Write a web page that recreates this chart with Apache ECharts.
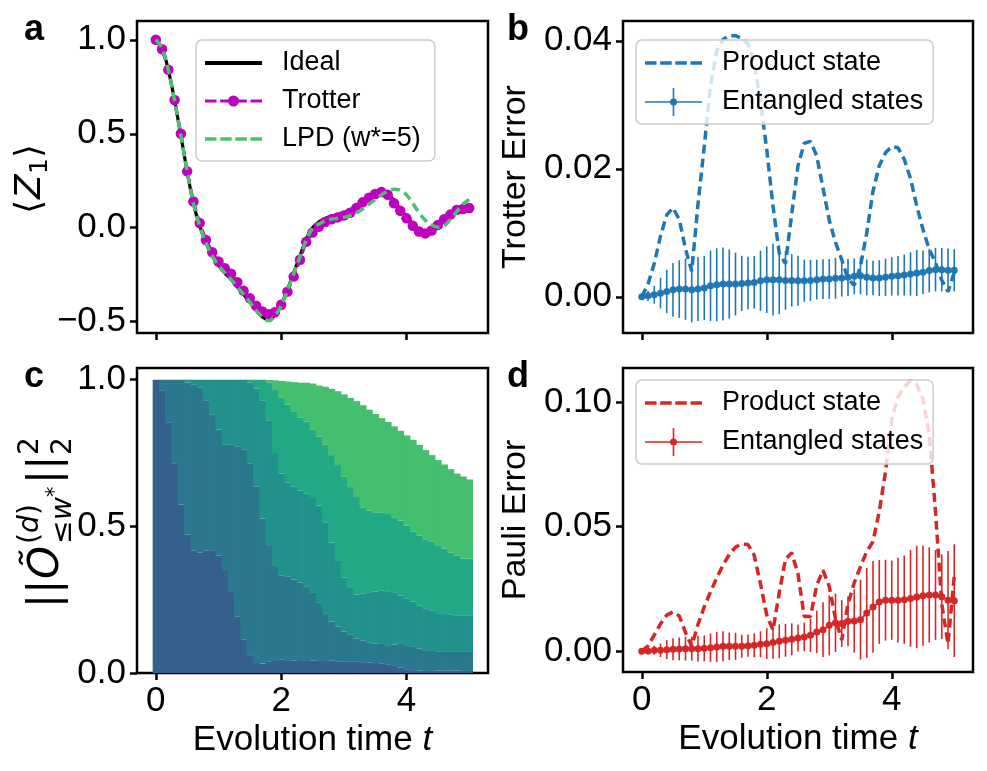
<!DOCTYPE html>
<html><head><meta charset="utf-8">
<script src="https://cdn.jsdelivr.net/npm/echarts@6/dist/echarts.min.js"></script>
<style>html,body{margin:0;padding:0;background:#fff}#c{width:987px;height:771px}</style>
</head><body><div id="c"></div>
<script>
// ---------------- data ----------------
const tArr = [0,0.1,0.2,0.3,0.4,0.5,0.6,0.7,0.8,0.9,1,1.1,1.2,1.3,1.4,1.5,1.6,1.7,1.8,1.9,2,2.1,2.2,2.3,2.4,2.5,2.6,2.7,2.8,2.9,3,3.1,3.2,3.3,3.4,3.5,3.6,3.7,3.8,3.9,4,4.1,4.2,4.3,4.4,4.5,4.6,4.7,4.8,4.9,5];
const xTicks = [0, 2, 4];

// panel a : <Z1>
const idealZ = [1.0,0.955,0.84,0.675,0.49,0.30,0.13,0.01,-0.08,-0.15,-0.2,-0.24,-0.275,-0.315,-0.355,-0.395,-0.44,-0.475,-0.49,-0.465,-0.41,-0.33,-0.24,-0.15,-0.06,0.0,0.03,0.05,0.06,0.07,0.08,0.095,0.115,0.14,0.165,0.185,0.19,0.18,0.145,0.1,0.06,0.02,-0.01,-0.02,-0.01,0.02,0.05,0.075,0.095,0.105,0.11];
const trotterZ = [1.0,0.95,0.84,0.68,0.50,0.30,0.14,0.025,-0.065,-0.13,-0.18,-0.215,-0.245,-0.29,-0.335,-0.375,-0.415,-0.445,-0.46,-0.45,-0.41,-0.34,-0.26,-0.17,-0.075,-0.025,0.005,0.03,0.045,0.055,0.065,0.08,0.105,0.135,0.16,0.18,0.19,0.175,0.13,0.09,0.05,0.01,-0.02,-0.03,-0.015,0.015,0.045,0.07,0.095,0.10,0.105];
const lpdZ = [1.0,0.955,0.84,0.675,0.49,0.30,0.13,0.01,-0.08,-0.15,-0.2,-0.24,-0.275,-0.315,-0.355,-0.395,-0.44,-0.475,-0.495,-0.47,-0.415,-0.335,-0.245,-0.155,-0.065,-0.005,0.02,0.035,0.045,0.05,0.055,0.065,0.08,0.1,0.125,0.15,0.175,0.195,0.205,0.2,0.175,0.13,0.08,0.04,0.015,0.003,0.01,0.045,0.085,0.125,0.15];
const yTicksA = [-0.5, 0, 0.5, 1.0];

// panel b : Trotter error
const prodTrotter = [0,0.002,0.0052,0.0095,0.0128,0.0139,0.0121,0.0075,0.004,0.0145,0.0235,0.033,0.0385,0.0402,0.0408,0.0408,0.0404,0.0395,0.0365,0.0305,0.023,0.0142,0.0068,0.0052,0.013,0.0205,0.024,0.0243,0.022,0.017,0.012,0.0085,0.0058,0.0028,0.0018,0.0048,0.01,0.0165,0.0205,0.0225,0.0235,0.0233,0.0215,0.0185,0.0142,0.0105,0.0074,0.0054,0.0026,0.0008,0.0038];
const entTrotter = [0,0.00016,0.00032,0.00058,0.00084,0.0011,0.00121,0.00121,0.0011,0.00121,0.00137,0.00173,0.00189,0.002,0.002,0.002,0.0021,0.00215,0.00226,0.00252,0.00268,0.00268,0.00268,0.00257,0.00257,0.00252,0.00252,0.00257,0.00268,0.00278,0.00278,0.00289,0.00294,0.00305,0.0032,0.0033,0.00305,0.00294,0.00294,0.00305,0.0032,0.0033,0.0034,0.00357,0.00373,0.00383,0.0041,0.00425,0.00425,0.00415,0.00415];
const entTrotterErr = [0,0.0008,0.0014,0.0024,0.0034,0.0042,0.0045,0.0048,0.0051,0.005,0.005,0.0055,0.0057,0.0057,0.0054,0.0049,0.0043,0.0041,0.0041,0.0047,0.0052,0.0056,0.0054,0.0046,0.0041,0.0039,0.0033,0.0032,0.0031,0.0031,0.0031,0.0032,0.0029,0.0029,0.0028,0.0029,0.0028,0.0027,0.0028,0.0029,0.003,0.0031,0.0032,0.0034,0.0036,0.0034,0.0034,0.0034,0.0034,0.0034,0.0033];
const yTicksB = [0, 0.02, 0.04];

// panel c : cumulative weight boundaries (bottom band -> top band)
const cumW1 = [1,0.962,0.853,0.713,0.574,0.472,0.417,0.411,0.417,0.419,0.4,0.351,0.276,0.193,0.115,0.061,0.034,0.032,0.038,0.044,0.045,0.044,0.042,0.041,0.041,0.042,0.044,0.044,0.043,0.04,0.038,0.038,0.038,0.037,0.036,0.034,0.033,0.03,0.024,0.018,0.013,0.01,0.008,0.007,0.007,0.008,0.009,0.009,0.008,0.007,0.007];
const cumW2 = [1,1,1,1,1,0.99,0.985,0.974,0.928,0.882,0.83,0.778,0.778,0.773,0.761,0.715,0.635,0.527,0.436,0.365,0.333,0.328,0.319,0.308,0.296,0.273,0.239,0.204,0.175,0.158,0.141,0.13,0.118,0.11,0.103,0.101,0.099,0.095,0.097,0.099,0.095,0.089,0.084,0.078,0.075,0.072,0.072,0.072,0.072,0.072,0.072];
const cumW3 = [1,1,1,1,1,1,1,1,1,1,1,1,1,1,1,0.99,0.97,0.93,0.86,0.75,0.68,0.65,0.635,0.622,0.611,0.6,0.571,0.514,0.445,0.382,0.325,0.29,0.267,0.27,0.273,0.278,0.282,0.279,0.273,0.264,0.253,0.244,0.231,0.221,0.212,0.204,0.201,0.198,0.197,0.197,0.197];
const cumW4 = [1,1,1,1,1,1,1,1,1,1,1,1,1,1,1,1,1,1,0.99,0.965,0.94,0.915,0.89,0.87,0.858,0.829,0.806,0.778,0.743,0.709,0.669,0.634,0.6,0.565,0.554,0.548,0.546,0.542,0.531,0.52,0.502,0.483,0.468,0.456,0.447,0.433,0.424,0.41,0.401,0.39,0.39];
const cumW5 = [1,1,1,1,1,1,1,1,1,1,1,1,1,1,1,1,1,1,0.999,0.998,0.996,0.994,0.992,0.99,0.99,0.987,0.98,0.976,0.969,0.961,0.95,0.938,0.927,0.913,0.898,0.883,0.869,0.856,0.841,0.826,0.81,0.795,0.778,0.76,0.743,0.726,0.711,0.695,0.68,0.67,0.66];
const yTicksC = [0, 0.5, 1.0];

// panel d : Pauli error
const prodPauli = [0,0.0022,0.0065,0.011,0.0145,0.0158,0.0142,0.0075,0.002,0.0108,0.0178,0.0238,0.0295,0.0345,0.0388,0.0418,0.043,0.0428,0.0385,0.027,0.0145,0.0085,0.0235,0.037,0.0395,0.031,0.014,0.014,0.0265,0.0325,0.026,0.013,0.0045,0.019,0.0275,0.034,0.04,0.044,0.056,0.072,0.093,0.102,0.106,0.1085,0.107,0.101,0.087,0.056,0.019,0.003,0.03];
const entPauli = [0,0.00013,0.0004,0.0004,0.00067,0.0008,0.00094,0.00107,0.00107,0.00107,0.0012,0.00147,0.00174,0.002,0.002,0.002,0.002,0.00227,0.00241,0.00281,0.00307,0.00348,0.00401,0.00441,0.00481,0.00535,0.00575,0.00642,0.00775,0.00869,0.0104,0.0114,0.0111,0.012,0.0122,0.0127,0.0154,0.0178,0.0198,0.0205,0.0205,0.0205,0.0207,0.0212,0.0218,0.0223,0.0226,0.0226,0.0219,0.0205,0.0203];
const entPauliErr = [0,0.0013,0.0018,0.0027,0.0038,0.0044,0.0046,0.0048,0.0048,0.0052,0.0052,0.0057,0.006,0.006,0.0055,0.0054,0.0046,0.0045,0.0048,0.0052,0.0062,0.0065,0.0068,0.0066,0.0064,0.0054,0.0057,0.0067,0.0085,0.011,0.012,0.0117,0.0094,0.01,0.0127,0.016,0.018,0.0184,0.0168,0.0162,0.0159,0.017,0.0177,0.0194,0.0205,0.0201,0.0191,0.018,0.017,0.0197,0.0226];
const yTicksD = [0, 0.05, 0.10];

// ---------------- styling ----------------
const FONT = 'Liberation Sans, Arial, sans-serif';
const BLUE = '#1f77b4', RED = '#d62728', MAG = '#bf00bf', LGREEN = '#4ac16d';
const VIR = ['#355f8d', '#2a788e', '#21918c', '#22a884', '#44bf70'];

// legend handle icons (57 x 14 for panel a, 57 x 28 for panels b/d)
const C14 = 'M0,0h0.01v0.01h-0.01Z M56.99,13.99h0.01v0.01h-0.01Z ';
const C28 = 'M0,0h0.01v0.01h-0.01Z M56.99,27.99h0.01v0.01h-0.01Z ';
const dashes = (y0, y1) => [[0, 11.5], [15.2, 26.7], [30.3, 41.8], [45.5, 57]]
  .map(([a, b]) => `M${a},${y0}H${b}V${y1}H${a}Z`).join(' ');
const ICON_IDEAL = 'path://' + C14 + 'M0,4.9H57V9.1H0Z';
const ICON_TROT = 'path://' + C14 + dashes(5.4, 8.6) + ' M23,7A5.5,5.5 0 1,1 34,7A5.5,5.5 0 1,1 23,7Z';
const ICON_LPD = 'path://' + C14 + dashes(5.2, 8.8);
const ICON_PROD = 'path://' + C28 + dashes(12.2, 15.8);
const ICON_ERR = 'path://M0,13.2H57V14.8H0Z M27.7,0H29.3V28H27.7Z M25,14A3.5,3.5 0 1,1 32,14A3.5,3.5 0 1,1 25,14Z';

const pairs = (ys) => tArr.map((t, i) => [t, ys[i]]);

const chart = echarts.init(document.getElementById('c'), null, {renderer: 'canvas'});

const grids = [
  {left: 137, top: 21, width: 351, height: 312},
  {left: 623, top: 21, width: 350, height: 312},
  {left: 137, top: 368, width: 351, height: 305},
  {left: 623, top: 368, width: 350, height: 304}
].map(g => Object.assign(g, {show: true, borderColor: '#000', borderWidth: 2.5, backgroundColor: 'transparent', containLabel: false}));

const tickStyle = {show: true, length: 7, inside: false, lineStyle: {color: '#000', width: 2.5}};
const labelBase = {color: '#000', fontSize: 35, fontFamily: FONT};

const xAxes = [0, 1, 2, 3].map(i => ({
  type: 'value', gridIndex: i, min: -0.3, max: 5.3,
  axisLine: {show: false, onZero: false}, splitLine: {show: false},
  axisTick: Object.assign({customValues: xTicks}, tickStyle),
  axisLabel: Object.assign({show: i >= 2, customValues: xTicks, margin: 11, formatter: v => String(v)}, labelBase),
  name: i >= 2 ? '{n|Evolution time }{i|t}' : '',
  nameLocation: 'middle', nameGap: 50,
  nameTextStyle: {rich: {
    n: {fontSize: 35, fontFamily: FONT, color: '#000'},
    i: {fontSize: 35, fontFamily: FONT, fontStyle: 'italic', color: '#000'}
  }}
}));

function yAx(i, min, max, ticks, digits, name) {
  return {
    type: 'value', gridIndex: i, min, max,
    axisLine: {show: false, onZero: false}, splitLine: {show: false},
    axisTick: Object.assign({customValues: ticks}, tickStyle),
    axisLabel: Object.assign({customValues: ticks, margin: 11,
      formatter: v => (v < -1e-9 ? '\u2212' : '') + Math.abs(v).toFixed(digits)}, labelBase),
    name: name || '', nameLocation: 'middle', nameRotate: 90, nameGap: 90,
    nameTextStyle: {fontSize: 34, fontFamily: FONT, color: '#000'}
  };
}
const yAxes = [
  yAx(0, -0.56, 1.10, yTicksA, 1),
  yAx(1, -0.00565, 0.0431, yTicksB, 2, 'Trotter Error'),
  yAx(2, 0, 1.04, yTicksC, 1),
  yAx(3, -0.0083, 0.1136, yTicksD, 2, 'Pauli Error')
];

function errSeries(name, idx, mean, err, color) {
  return {
    type: 'custom', name, xAxisIndex: idx, yAxisIndex: idx, clip: true, z: 3,
    data: tArr.map((t, i) => [t, mean[i], err[i]]),
    encode: {x: 0, y: 1},
    renderItem: (params, api) => {
      const x = api.value(0), m = api.value(1), e = api.value(2);
      const p1 = api.coord([x, m - e]), p2 = api.coord([x, m + e]);
      return {type: 'line', shape: {x1: p1[0], y1: p1[1], x2: p2[0], y2: p2[1]},
        style: {stroke: color, lineWidth: 1.6}};
    }
  };
}

const bandTops = [cumW1, cumW2, cumW3, cumW4, cumW5];
const bandSeries = bandTops.map((top, b) => {
  const bottom = b === 0 ? null : bandTops[b - 1];
  return {
    type: 'custom', name: 'band' + (b + 1), xAxisIndex: 2, yAxisIndex: 2, z: 2,
    data: tArr.map((t, i) => [t, bottom ? bottom[i] : 0, top[i]]),
    encode: {x: 0, y: [1, 2]},
    renderItem: (params, api) => {
      const x = api.value(0), lo = api.value(1), hi = api.value(2);
      const a = api.coord([x - 0.05, hi]), c = api.coord([x + 0.05, lo]);
      return {type: 'rect', shape: {x: a[0], y: a[1], width: c[0] - a[0] + 0.7, height: c[1] - a[1]},
        style: {fill: VIR[b]}};
    }
  };
});

const legendBase = {
  orient: 'vertical', itemWidth: 57, backgroundColor: 'rgba(255,255,255,0.8)',
  borderColor: '#cccccc', borderWidth: 1.5, borderRadius: 6,
  formatter: n => n.split('|')[0],
  textStyle: {fontSize: 27, fontFamily: FONT, color: '#000', lineHeight: 30, padding: [0, 0, 0, 15]}
};

const option = {
  animation: false,
  backgroundColor: '#fff',
  grid: grids,
  xAxis: xAxes,
  yAxis: yAxes,
  legend: [
    Object.assign({}, legendBase, {left: 196, top: 40, itemHeight: 14, itemGap: 8, padding: [8, 14, 7, 9],
      data: [{name: 'Ideal', icon: ICON_IDEAL}, {name: 'Trotter', icon: ICON_TROT}, {name: 'LPD (w*=5)', icon: ICON_LPD}]}),
    Object.assign({}, legendBase, {left: 636, top: 40, itemHeight: 28, itemGap: 9, padding: [8, 10, 7, 9],
      data: [{name: 'Product state|b', icon: ICON_PROD}, {name: 'Entangled states|b', icon: ICON_ERR}]}),
    Object.assign({}, legendBase, {left: 636, top: 380, itemHeight: 28, itemGap: 9, padding: [8, 10, 7, 9],
      data: [{name: 'Product state|d', icon: ICON_PROD}, {name: 'Entangled states|d', icon: ICON_ERR}]})
  ],
  series: [
    {type: 'line', name: 'Ideal', xAxisIndex: 0, yAxisIndex: 0, data: pairs(idealZ), smooth: 0.35,
      symbol: 'none', color: '#000', lineStyle: {width: 3.2, color: '#000'}, z: 2},
    {type: 'line', name: 'Trotter', xAxisIndex: 0, yAxisIndex: 0, data: pairs(trotterZ),
      symbol: 'circle', symbolSize: 10.5, color: MAG, itemStyle: {color: MAG},
      lineStyle: {width: 3, color: MAG, type: [9, 5]}, z: 3},
    {type: 'line', name: 'LPD (w*=5)', xAxisIndex: 0, yAxisIndex: 0, data: pairs(lpdZ), smooth: 0.35,
      symbol: 'none', color: LGREEN, lineStyle: {width: 3.5, color: LGREEN, type: [9, 5]}, z: 4},

    {type: 'line', name: 'Product state|b', xAxisIndex: 1, yAxisIndex: 1, data: pairs(prodTrotter),
      symbol: 'none', color: BLUE, lineStyle: {width: 3.5, color: BLUE, type: [9, 5]}, z: 2},
    errSeries('errorbars b', 1, entTrotter, entTrotterErr, BLUE),
    {type: 'line', name: 'Entangled states|b', xAxisIndex: 1, yAxisIndex: 1, data: pairs(entTrotter),
      symbol: 'circle', symbolSize: 7, color: BLUE, itemStyle: {color: BLUE},
      lineStyle: {width: 1.6, color: BLUE}, z: 4},

    ...bandSeries,

    {type: 'line', name: 'Product state|d', xAxisIndex: 3, yAxisIndex: 3, data: pairs(prodPauli),
      symbol: 'none', color: RED, lineStyle: {width: 3.5, color: RED, type: [9, 5]}, z: 2},
    errSeries('errorbars d', 3, entPauli, entPauliErr, RED),
    {type: 'line', name: 'Entangled states|d', xAxisIndex: 3, yAxisIndex: 3, data: pairs(entPauli),
      symbol: 'circle', symbolSize: 7, color: RED, itemStyle: {color: RED},
      lineStyle: {width: 1.6, color: RED}, z: 4}
  ],
  graphic: [
    // panel letters
    {type: 'text', left: 24, top: 12, style: {text: 'a', font: 'bold 36px Liberation Sans', fill: '#000'}},
    {type: 'text', left: 507, top: 12, style: {text: 'b', font: 'bold 36px Liberation Sans', fill: '#000'}},
    {type: 'text', left: 24, top: 359, style: {text: 'c', font: 'bold 36px Liberation Sans', fill: '#000'}},
    {type: 'text', left: 507, top: 359, style: {text: 'd', font: 'bold 36px Liberation Sans', fill: '#000'}},
    // <Z_1> label, rotated
    {type: 'group', x: 31, y: 214, rotation: Math.PI / 2, children: [
      {type: 'text', x: 0, y: 0, style: {text: '\u27E8', font: '36px DejaVu Sans', fill: '#000', verticalAlign: 'middle'}},
      {type: 'text', x: 15, y: 0, style: {text: 'Z', font: 'italic 36px DejaVu Sans', fill: '#000', verticalAlign: 'middle'}},
      {type: 'text', x: 40, y: 9, style: {text: '1', font: '25px DejaVu Sans', fill: '#000', verticalAlign: 'middle'}},
      {type: 'text', x: 56, y: 0, style: {text: '\u27E9', font: '36px DejaVu Sans', fill: '#000', verticalAlign: 'middle'}}
    ]},
    // ||O~^(d)_{<=w*}||_2^2 label, rotated
    {type: 'group', x: 47, y: 608, rotation: Math.PI / 2, children: [
      {type: 'text', x: 0, y: 0, style: {text: '||', font: '42px DejaVu Sans', fill: '#000', verticalAlign: 'middle'}},
      {type: 'text', x: 29, y: 0, style: {text: '\u00D5', font: 'italic 42px DejaVu Sans', fill: '#000', verticalAlign: 'middle'}},
      {type: 'text', x: 64, y: -16, style: {text: '(', font: '28px DejaVu Sans', fill: '#000', verticalAlign: 'middle'}},
      {type: 'text', x: 75, y: -16, style: {text: 'd', font: 'italic 28px DejaVu Sans', fill: '#000', verticalAlign: 'middle'}},
      {type: 'text', x: 93, y: -16, style: {text: ')', font: '28px DejaVu Sans', fill: '#000', verticalAlign: 'middle'}},
      {type: 'text', x: 64, y: 17, style: {text: '\u2264', font: '28px DejaVu Sans', fill: '#000', verticalAlign: 'middle'}},
      {type: 'text', x: 88, y: 17, style: {text: 'w', font: 'italic 28px DejaVu Sans', fill: '#000', verticalAlign: 'middle'}},
      {type: 'text', x: 111, y: 9, style: {text: '*', font: '21px DejaVu Sans', fill: '#000', verticalAlign: 'middle'}},
      {type: 'text', x: 124, y: 0, style: {text: '||', font: '42px DejaVu Sans', fill: '#000', verticalAlign: 'middle'}},
      {type: 'text', x: 153, y: -16, style: {text: '2', font: '28px DejaVu Sans', fill: '#000', verticalAlign: 'middle'}},
      {type: 'text', x: 153, y: 17, style: {text: '2', font: '28px DejaVu Sans', fill: '#000', verticalAlign: 'middle'}}
    ]}
  ]
};
chart.setOption(option);
</script></body></html>
